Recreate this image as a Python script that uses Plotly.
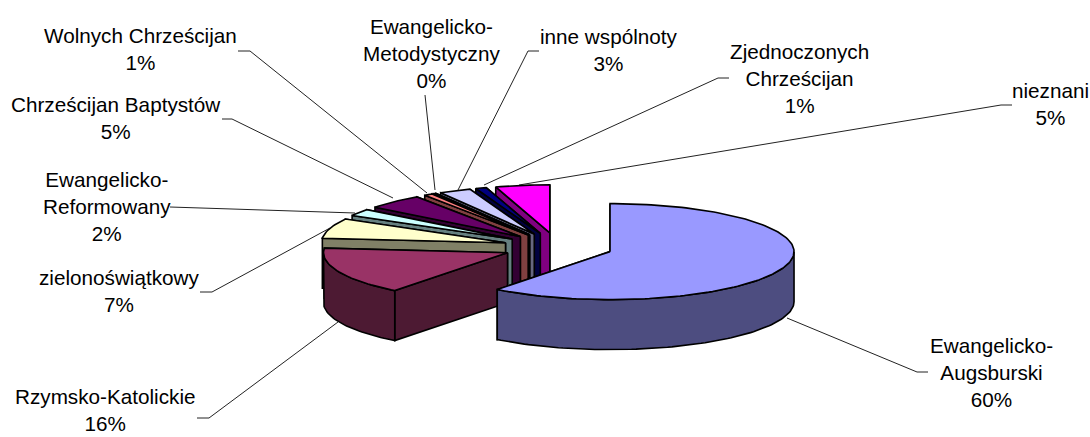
import math
import plotly.graph_objects as go

categories = ["Ewangelicko-Augsburski", "Rzymsko-Katolickie", "zielonoświątkowy",
              "Ewangelicko-Reformowany", "Chrześcijan Baptystów", "Wolnych Chrześcijan",
              "Ewangelicko-Metodystyczny", "inne wspólnoty", "Zjednoczonych Chrześcijan", "nieznani"]
values = [60.5, 16, 6.7, 2.3, 5, 0.75, 0.25, 2.8, 0.95, 4.75]
pct_labels = ["60%", "16%", "7%", "2%", "5%", "1%", "0%", "3%", "1%", "5%"]
label_text = ["Ewangelicko-<br>Augsburski", "Rzymsko-Katolickie", "zielonoświątkowy",
              "Ewangelicko-<br>Reformowany", "Chrześcijan Baptystów", "Wolnych Chrześcijan",
              "Ewangelicko-<br>Metodystyczny", "inne wspólnoty", "Zjednoczonych<br>Chrześcijan", "nieznani"]
top_colors = ["#9999FF", "#993366", "#FFFFCC", "#CCFFFF", "#660066",
              "#FF8080", "#0066CC", "#CCCCFF", "#000080", "#FF00FF"]
side_colors = ["#4D4D80", "#4D1A33", "#808066", "#668080", "#330033",
               "#804040", "#003366", "#666680", "#000040", "#800080"]

# pie geometry (pixels)
CX, CY, RX, RY, DEPTH, EXPL, EXPL_Y = 558, 247, 184, 48, 50, 55, 14.3

# label centres and leader polylines (pixels); the slice end of each leader comes last
label_pos = [(991, 372), (105, 410), (119, 291), (107, 206), (115, 118),
             (140, 49), (431, 53), (609, 50), (799, 78), (1050, 104)]
leaders = [[(928, 372), (917, 372), (787, 318)],
           [(197, 418), (209, 418), (338, 322)],
           [(200, 292), (212, 292), (330, 228)],
           [(170, 207), (355, 213)],
           [(222, 119), (232, 119), (393, 198)],
           [(238, 51), (250, 51), (427, 193)],
           [(425, 95), (435, 190)],
           [(539, 51), (528, 51), (458, 190)],
           [(729, 78), (718, 78), (484, 185)],
           [(1012, 105), (1001, 105), (519, 185)]]

fig = go.Figure()

for pts in leaders:
    fig.add_trace(go.Scatter(x=[p[0] for p in pts], y=[p[1] for p in pts], mode="lines",
                             line=dict(color="#222222", width=1), hoverinfo="skip", showlegend=False))

total = sum(values)
spans, acc = [], 0.0
for v in values:
    a0 = acc / total * 2 * math.pi
    acc += v
    spans.append((a0, acc / total * 2 * math.pi))


def ell(ax, ay, a):
    return ax + RX * math.sin(a), ay - RY * math.cos(a)


def poly(pts, color):
    xs = [p[0] for p in pts] + [pts[0][0]]
    ys = [p[1] for p in pts] + [pts[0][1]]
    fig.add_trace(go.Scatter(x=xs, y=ys, mode="lines", fill="toself", fillcolor=color,
                             line=dict(color="black", width=1.6), hoverinfo="skip", showlegend=False))


order = list(range(len(values) - 1, 0, -1)) + [0]
for i in order:
    a0, a1 = spans[i]
    mid = (a0 + a1) / 2
    ax = CX + EXPL * math.sin(mid)
    ay = CY - EXPL_Y * math.cos(mid)
    p0 = ell(ax, ay, a0)
    p1 = ell(ax, ay, a1)
    # radial walls
    for p in (p1, p0):
        poly([(ax, ay), p, (p[0], p[1] + DEPTH), (ax, ay + DEPTH)], side_colors[i])
    # outer wall (front half of the rim only)
    lo, hi = max(a0, math.pi / 2), min(a1, 3 * math.pi / 2)
    if hi > lo:
        n = max(4, int((hi - lo) * 40))
        arc = [ell(ax, ay, lo + (hi - lo) * k / n) for k in range(n + 1)]
        poly(arc + [(x, y + DEPTH) for x, y in reversed(arc)], side_colors[i])
    # top face
    n = max(2, int((a1 - a0) * 40))
    arc = [ell(ax, ay, a0 + (a1 - a0) * k / n) for k in range(n + 1)]
    poly([(ax, ay)] + arc, top_colors[i])

for t, pct, (x, y) in zip(label_text, pct_labels, label_pos):
    fig.add_annotation(x=x, y=y, text=f"{t}<br>{pct}", showarrow=False, align="center",
                       xanchor="center", yanchor="middle",
                       font=dict(family="Liberation Sans", size=20.7, color="black"))

fig.update_xaxes(range=[0, 1090], visible=False)
fig.update_yaxes(range=[437, 0], visible=False)
fig.update_layout(width=1090, height=437, margin=dict(l=0, r=0, t=0, b=0),
                  paper_bgcolor="white", plot_bgcolor="white", showlegend=False)
fig.write_html("out.html", config={"displayModeBar": False},
               post_script="document.body.style.margin='0';document.documentElement.style.overflow='hidden';")
